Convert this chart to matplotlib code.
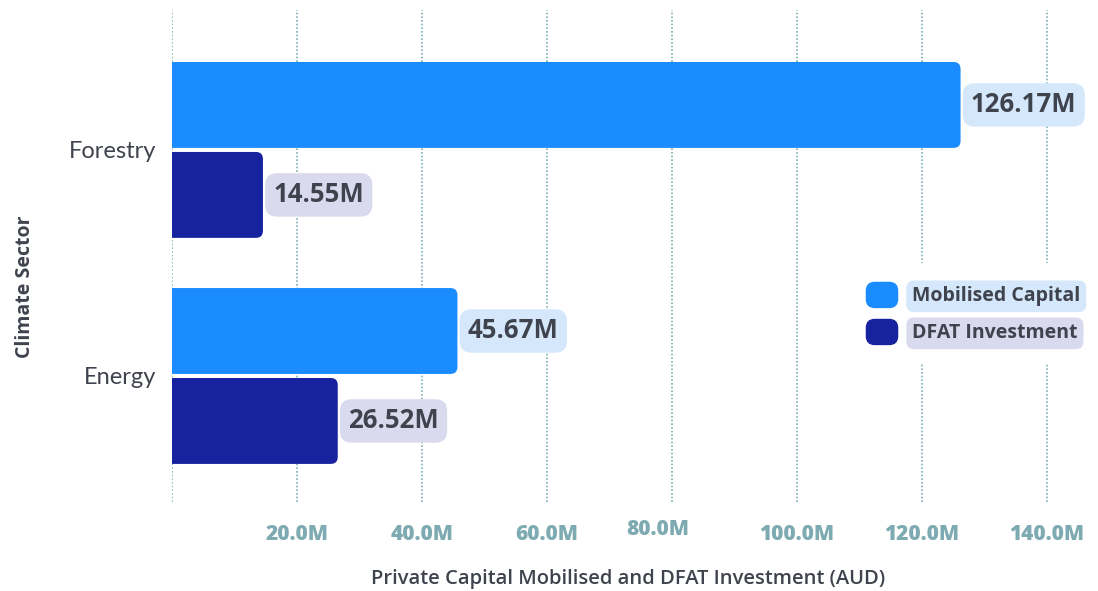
import matplotlib
matplotlib.use('Agg')
import matplotlib.pyplot as plt
import matplotlib.transforms as mtransforms
from matplotlib.patches import FancyBboxPatch, Patch
from matplotlib.legend_handler import HandlerPatch
import numpy as np

# Data (AUD millions)
sectors = ['Energy', 'Forestry']
mobilised_capital = [45.67, 126.17]
dfat_investment = [26.52, 14.55]
series_names = ['Mobilised Capital', 'DFAT Investment']
x_ticks = [0, 20, 40, 60, 80, 100, 120, 140]

# Styling
mobilised_color = '#1a8cff'
dfat_color = '#16229e'
mobilised_box = '#d5e7fb'
dfat_box = '#dadaee'
text_dark = '#3f434d'
tick_color = '#7eaab1'
grid_color = '#7fb0b4'
font = 'Lato'
bold_font = 'Open Sans'

fig = plt.figure(figsize=(10.98, 5.91), dpi=100)
ax = fig.add_axes([172 / 1098, 89 / 591, 912.5 / 1098, 492 / 591])

y = np.arange(len(sectors))
bar_height = 0.38
offset = 0.199

bars_mob = ax.barh(y + offset, mobilised_capital, height=bar_height, color=mobilised_color)
bars_dfat = ax.barh(y - offset, dfat_investment, height=bar_height, color=dfat_color)

ax.set_xlim(0, 146)
ax.set_ylim(-0.5575, 1.619)

# Swap the plain rectangles for ones with rounded right-hand corners
px_per_x = 912.5 / 146
px_per_y = 492 / (1.619 + 0.5575)
radius = 7 / px_per_x
aspect = px_per_x / px_per_y
for container in (bars_mob, bars_dfat):
    for rect in container.patches:
        rect.set_visible(False)
        x0, y0 = rect.get_x(), rect.get_y()
        w, h = rect.get_width(), rect.get_height()
        rounded = FancyBboxPatch((x0 - 3, y0), w + 3, h,
                                 boxstyle=f'round,pad=0,rounding_size={radius}',
                                 mutation_aspect=aspect,
                                 fc=rect.get_facecolor(), ec='none', zorder=2)
        ax.add_patch(rounded)

# Value labels
for vals, pos, box in ((mobilised_capital, y + offset, mobilised_box),
                       (dfat_investment, y - offset, dfat_box)):
    for v, p in zip(vals, pos):
        ax.annotate(f'{v:.2f}M', xy=(v, p), xytext=(7.5, 0), textcoords='offset points',
                    ha='left', va='center', fontsize=18.5, fontweight='bold',
                    family=bold_font, color=text_dark, zorder=4,
                    bbox=dict(boxstyle='round,pad=0.32,rounding_size=0.45', fc=box, ec='none'))

# Axes styling
ax.set_axisbelow(True)
ax.grid(axis='x', linestyle=(0, (1, 1.2)), color=grid_color, linewidth=1.2)
ax.grid(axis='y', visible=False)
for s in ax.spines.values():
    s.set_visible(False)

ax.set_xticks(x_ticks)
ax.set_xticklabels(['' if t == 0 else f'{t:.1f}M' for t in x_ticks],
                   fontsize=15, fontweight='heavy', family=bold_font, color=tick_color)
ax.tick_params(axis='x', length=0, pad=16)
ax.set_yticks(y)
ax.set_yticklabels(sectors, fontsize=17, family=font, color=text_dark)
ax.tick_params(axis='y', length=0, pad=11)

# The 80.0M label sits slightly off its gridline
lab80 = ax.get_xticklabels()[4]
lab80.set_transform(lab80.get_transform() +
                    mtransforms.ScaledTranslation(-14 / 100, 5 / 100, fig.dpi_scale_trans))

ax.set_xlabel('Private Capital Mobilised and DFAT Investment (AUD)', fontsize=14.5,
              fontweight='semibold', family=bold_font, color=text_dark)
ax.xaxis.set_label_coords(0.5, -0.136)
ax.set_ylabel('Climate Sector', fontsize=14, fontweight='bold', family=bold_font, color=text_dark)
ax.yaxis.set_label_coords(-0.150, 0.437)


# Legend with rounded square swatches and shaded label boxes
def rounded_swatch(legend, orig_handle, xdescent, ydescent, width, height, fontsize):
    return FancyBboxPatch((-xdescent, -ydescent), width, height,
                          boxstyle='round,pad=0,rounding_size=6')


handles = [Patch(color=mobilised_color, label=series_names[0]),
           Patch(color=dfat_color, label=series_names[1])]
leg = ax.legend(handles=handles, loc='upper left',
                bbox_to_anchor=((866 - 19) / 1098, 1 - (282 - 19) / 591),
                bbox_transform=fig.transFigure, borderaxespad=0, borderpad=1,
                handlelength=1.6, handleheight=1.6, handletextpad=0.75,
                labelspacing=0.62, frameon=True, fancybox=False,
                prop={'family': bold_font, 'weight': 'bold', 'size': 14},
                handler_map={Patch: HandlerPatch(patch_func=rounded_swatch)})
leg.get_frame().set_facecolor('white')
leg.get_frame().set_edgecolor('none')
leg.get_frame().set_alpha(1)
for txt, box in zip(leg.get_texts(), (mobilised_box, dfat_box)):
    txt.set_color(text_dark)
    txt.set_bbox(dict(boxstyle='round,pad=0.3,rounding_size=0.4', fc=box, ec='none'))

fig.savefig('out.png', dpi=100)
